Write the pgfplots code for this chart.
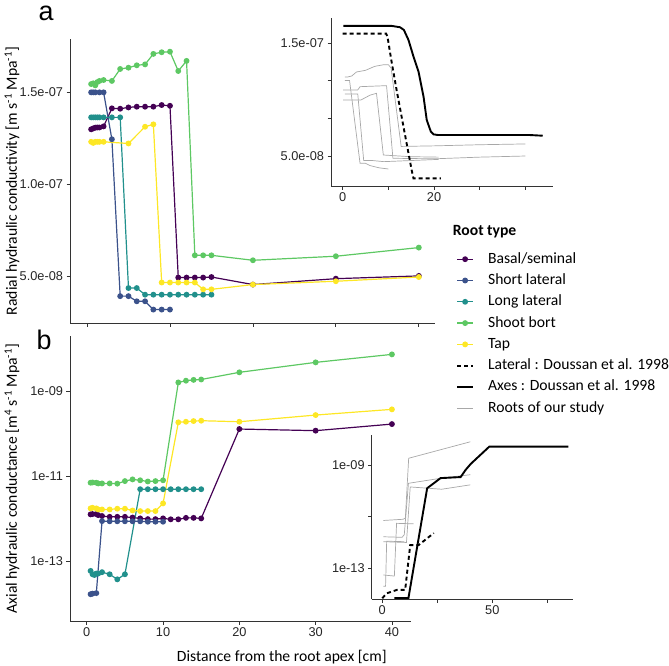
\documentclass[border=0pt]{standalone}
\usepackage{fontspec}
\setmainfont{Carlito}
\newfontfamily\tickfont{Liberation Sans}
\usepackage{pgfplots}
\pgfplotsset{compat=1.18}
\definecolor{cBasal}{HTML}{440154}
\definecolor{cShort}{HTML}{3B528B}
\definecolor{cLong}{HTML}{21908C}
\definecolor{cShoot}{HTML}{5DC863}
\definecolor{cTap}{HTML}{FDE725}
\definecolor{axisgray}{HTML}{333333}
\definecolor{rootgray}{HTML}{A8A8A8}
\newcommand{\labfont}{\fontsize{15.7}{18}\selectfont}
\pgfplotsset{
  base/.style={
    scale only axis, anchor=south west,
    axis lines*=left,
    axis line style={axisgray, line width=0.8bp, -},
    tick align=outside,
    major tick length=3.5bp,
    tick style={axisgray, line width=0.8bp},
    tick label style={font=\tickfont\fontsize{12.8}{15}\selectfont, text=black!85},
    /pgf/number format/assume math mode=true,
    scaled y ticks=false,
  },
  ser/.style={line width=1.2bp, mark=*, mark size=2.3bp, mark options={solid}},
  doussA/.style={black, line width=1.9bp},
  doussL/.style={black, line width=1.9bp, dash pattern=on 4bp off 3bp},
  ours/.style={rootgray, line width=0.7bp},
}
\begin{document}
\begin{tikzpicture}
\useasboundingbox (0,0) rectangle (669bp,-666bp);
% ---------------- panel a ----------------
\begin{axis}[base, at={(70bp,-323bp)}, width=365bp, height=284bp,
  xmin=-2.05, xmax=41.95, ymin=2.46e-8, ymax=17.9e-8,
  xtick={0,10,20,30,40}, xticklabels={},
  ytick={5e-8,1e-7,1.5e-7}, yticklabels={5.0e-08,1.0e-07,1.5e-07},
  ylabel={Radial hydraulic conductivity [m s\textsuperscript{-1} Mpa\textsuperscript{-1}]},
  every axis y label/.style={at={(axis description cs:-0.159,0.5)}, rotate=90, anchor=center, font=\labfont},
  legend cell align=left,
  legend image code/.code={
    \draw[#1, mark repeat=2, mark phase=2] plot coordinates {(0bp,0bp) (8bp,0bp) (16bp,0bp)};
  },
  legend style={at={(axis description cs:1.0575,0.2518)}, anchor=north west, draw=none, fill=none,
    inner sep=0pt, row sep=6.3bp, font=\labfont,
    /tikz/every odd column/.append style={column sep=14bp},
    nodes={inner sep=0pt, text height=11.5bp, text depth=3.5bp, font=\labfont}},
]
\addplot[ser, color=cBasal] coordinates {
(0.5,12.99e-8) (0.75,13.04e-8) (1,13.08e-8) (1.25,13.09e-8) (1.5,13.09e-8) (2,13.15e-8)
(3,14.13e-8) (4,14.11e-8) (5,14.18e-8) (6,14.22e-8) (7,14.22e-8) (8,14.22e-8) (9,14.31e-8) (10,14.27e-8)
(11,4.93e-8) (12,4.93e-8) (13,4.93e-8) (14,4.93e-8) (15,4.96e-8) (20,4.55e-8) (30,4.87e-8) (40,5.02e-8)};
\addlegendentry{\labfont Basal/seminal}
\addplot[ser, color=cShort] coordinates {
(0.5,15.0e-8) (0.75,15.0e-8) (1,15.0e-8) (1.5,15.0e-8) (2,15.0e-8) (3,12.45e-8)
(4,3.92e-8) (5,3.92e-8) (6,3.64e-8) (7,3.64e-8) (8,3.19e-8) (9,3.19e-8) (10,3.19e-8)};
\addlegendentry{\labfont Short lateral}
\addplot[ser, color=cLong] coordinates {
(0.5,13.64e-8) (0.75,13.64e-8) (1,13.64e-8) (1.25,13.64e-8) (1.5,13.64e-8) (2,13.64e-8) (3,13.64e-8) (4,13.64e-8)
(5,4.36e-8) (6,4.36e-8) (7,4.0e-8) (8,4.0e-8) (9,4.0e-8) (10,4.0e-8) (11,4.0e-8) (12,4.0e-8) (13,4.0e-8) (14,4.0e-8) (15,4.0e-8)};
\addlegendentry{\labfont Long lateral}
\addplot[ser, color=cShoot] coordinates {
(0.5,15.45e-8) (0.75,15.49e-8) (1,15.38e-8) (1.25,15.56e-8) (1.5,15.62e-8) (2,15.67e-8) (3,15.62e-8)
(4,16.27e-8) (5,16.34e-8) (6,16.47e-8) (7,16.52e-8) (8,17.09e-8) (9,17.18e-8) (10,17.21e-8)
(11,16.16e-8) (12,16.71e-8) (13,6.14e-8) (14,6.14e-8) (15,6.14e-8) (20,5.87e-8) (30,6.09e-8) (40,6.56e-8)};
\addlegendentry{\labfont Shoot bort}
\addplot[ser, color=cTap] coordinates {
(0.5,12.31e-8) (0.75,12.25e-8) (1,12.31e-8) (1.25,12.31e-8) (1.5,12.31e-8) (2,12.31e-8) (5,12.22e-8)
(7,13.13e-8) (8,13.26e-8) (9,4.66e-8) (10,4.66e-8) (11,4.66e-8) (12,4.66e-8) (13,4.66e-8)
(14,4.29e-8) (15,4.29e-8) (20,4.55e-8) (30,4.73e-8) (40,4.96e-8)};
\addlegendentry{\labfont Tap}
\addlegendimage{doussL}
\addlegendentry{\labfont Lateral : Doussan et al. 1998}
\addlegendimage{doussA}
\addlegendentry{\labfont Axes : Doussan et al. 1998}
\addlegendimage{ours}
\addlegendentry{\labfont Roots of our study}
\end{axis}
% ---------------- panel b ----------------
\begin{axis}[base, at={(70bp,-621bp)}, width=341bp, height=285bp,
  xmin=-2.2, xmax=42.5, ymode=log, ymin=3.98e-15, ymax=2.0e-8,
  xtick={0,10,20,30,40},
  ytick={1e-13,1e-11,1e-9}, yticklabels={1e-13,1e-11,1e-09}, yminorticks=false,
  ylabel={Axial hydraulic conductance [m\textsuperscript{4} s\textsuperscript{-1} Mpa\textsuperscript{-1}]},
  every axis y label/.style={at={(axis description cs:-0.170,0.5)}, rotate=90, anchor=center, font=\labfont},
  xlabel={Distance from the root apex [cm]},
  every axis x label/.style={at={(axis description cs:0.621,-0.125)}, anchor=center, font=\labfont},
]
\addplot[ser, color=cBasal] coordinates {
(0.5,1.28e-12) (0.75,1.30e-12) (1.25,1.30e-12) (1.5,1.23e-12) (2,1.17e-12) (3,1.12e-12) (4,1.12e-12)
(5,1.12e-12) (6,1.08e-12) (7,1.03e-12) (8,0.99e-12) (9,0.99e-12) (10,1.03e-12) (11,0.98e-12)
(12,0.98e-12) (13,1.06e-12) (14,1.06e-12) (15,1.03e-12) (20,1.30e-10) (30,1.19e-10) (40,1.70e-10)};
\addplot[ser, color=cShort] coordinates {
(0.5,1.7e-14) (0.75,1.75e-14) (1.25,1.8e-14) (2,8.9e-13) (3,8.8e-13) (4,8.8e-13) (5,8.8e-13)
(6,8.8e-13) (7,8.8e-13) (8,8.6e-13) (9,8.6e-13) (10,8.6e-13)};
\addplot[ser, color=cLong] coordinates {
(0.5,6.0e-14) (0.75,5.0e-14) (1,4.8e-14) (1.25,5.2e-14) (1.5,5.2e-14) (2,5.6e-14) (3,5.0e-14)
(4,3.8e-14) (5,5.0e-14) (7,5.0e-12) (8,5.0e-12) (9,5.0e-12) (10,5.0e-12) (11,5.0e-12)
(12,5.0e-12) (13,5.0e-12) (14,5.0e-12) (15,5.0e-12)};
\addplot[ser, color=cShoot] coordinates {
(0.5,7.1e-12) (0.75,7.2e-12) (1.25,7.1e-12) (1.5,6.84e-12) (2,6.84e-12) (3,6.84e-12) (4,6.76e-12)
(5,7.76e-12) (6,8.5e-12) (7,8.1e-12) (8,7.6e-12) (9,7.76e-12) (10,8.1e-12) (12,1.62e-9)
(13,1.78e-9) (14,1.86e-9) (15,1.9e-9) (20,2.8e-9) (30,4.8e-9) (40,7.4e-9)};
\addplot[ser, color=cTap] coordinates {
(0.5,1.77e-12) (0.75,1.83e-12) (1.25,1.77e-12) (1.5,1.67e-12) (2,1.67e-12) (3,1.67e-12) (4,1.74e-12)
(5,1.74e-12) (6,1.58e-12) (7,1.53e-12) (8,1.53e-12) (9,1.53e-12) (10,2.32e-12) (12,1.87e-10)
(13,1.93e-10) (14,2.0e-10) (15,2.04e-10) (20,1.93e-10) (30,2.77e-10) (40,3.77e-10)};
\end{axis}
% ---------------- inset a ----------------
\begin{axis}[base, at={(331bp,-186bp)}, width=222bp, height=168bp,
  xmin=-2.56, xmax=46.05, ymin=2.34e-8, ymax=17.24e-8,
  xtick={0,10,20,30,40}, xticklabels={0,,20,,},
  ytick={5e-8,8.333e-8,11.667e-8,15e-8}, yticklabels={5.0e-08,,,1.5e-07},
]
\addplot[ours] coordinates {(0.5,12.0e-8) (1,12.0e-8) (2,12.1e-8) (3,12.45e-8) (5,12.6e-8) (7,12.95e-8) (9,13.1e-8) (10,13.1e-8) (10.6,12.8e-8) (12.8,5.85e-8) (20,5.9e-8) (30,6.0e-8) (40,6.07e-8)};
\addplot[ours] coordinates {(0.5,11.7e-8) (1.5,11.7e-8) (3.8,4.35e-8) (5,4.35e-8) (6,4.15e-8) (8,3.95e-8) (10,3.85e-8)};
\addplot[ours] coordinates {(0.1,10.86e-8) (3.3,10.86e-8) (3.8,11.15e-8) (9.6,11.24e-8) (11,4.8e-8) (20,4.75e-8) (30,4.9e-8) (40,5.0e-8)};
\addplot[ours] coordinates {(0.5,10.5e-8) (3.3,10.5e-8) (4.6,4.6e-8) (6.5,4.6e-8) (9,4.5e-8) (21,4.7e-8)};
\addplot[ours] coordinates {(0.1,9.97e-8) (4,9.97e-8) (6,10.4e-8) (7.4,10.56e-8) (8.9,5.09e-8) (14.7,4.94e-8) (21,4.9e-8)};
\addplot[doussL] coordinates {(0,15.86e-8) (9.5,15.86e-8) (9.8,15.6e-8) (10.7,13.37e-8) (11.8,10.86e-8) (12.9,8.49e-8) (14.0,6.12e-8) (15.1,3.76e-8) (15.5,3.02e-8) (21.5,3.02e-8)};
\addplot[doussA] coordinates {(0.15,16.54e-8) (10.7,16.54e-8) (12.55,16.42e-8) (13.4,16.18e-8) (14.4,15.3e-8) (15.5,13.82e-8) (16.6,12.49e-8) (17.7,10.27e-8) (18.4,8.2e-8) (19.3,7.16e-8) (19.9,6.92e-8) (20.9,6.86e-8) (41,6.86e-8) (43.8,6.8e-8)};
\end{axis}
% ---------------- inset b ----------------
\begin{axis}[base, at={(371.7bp,-599bp)}, width=201.6bp, height=164bp,
  xmin=-4.8, xmax=86.8, ymode=log, ymin=6.46e-15, ymax=1.445e-8,
  xtick={0,25,50,75}, xticklabels={0,,50,},
  ytick={1e-13,1e-11,1e-9}, yticklabels={1e-13,,1e-09}, yminorticks=false,
]
\addplot[ours] coordinates {(0.5,7.1e-12) (9.5,7.9e-12) (10.5,8.9e-12) (12,1.82e-9) (40,7.9e-9)};
\addplot[ours] coordinates {(0.5,1.66e-12) (9,1.58e-12) (10,2.0e-12) (11.9,1.95e-10) (27,3.1e-10) (40,4.2e-10)};
\addplot[ours] coordinates {(0.5,1.07e-12) (11,1.0e-12) (12.7,1.41e-10) (27,1.15e-10) (40,1.7e-10)};
\addplot[ours] coordinates {(0.5,5.5e-14) (5.5,5.0e-14) (6.5,5.5e-12) (14.2,5.25e-12)};
\addplot[ours] coordinates {(0.5,2.0e-14) (1.5,2.0e-14) (2,1.12e-12) (10,1.07e-12)};
\addplot[doussL] coordinates {(0,6.9e-15) (2,1.07e-14) (6.6,1.45e-14) (10.4,1.45e-14) (12.7,7.9e-13) (16.5,7.9e-13) (23.4,2.3e-12)};
\addplot[doussA] coordinates {(5.5,7.1e-15) (11.9,7.1e-15) (20.4,1.26e-10) (26.5,3.1e-10) (35.6,3.4e-10) (37.9,6.5e-10) (40.2,1.1e-9) (48.6,5.1e-9) (84.6,5.1e-9)};
\end{axis}
% ---------------- titles ----------------
\node[inner sep=0pt, font=\tickfont\fontsize{27}{29}\selectfont] at (46bp,-13bp) {a};
\node[inner sep=0pt, font=\tickfont\fontsize{27}{29}\selectfont] at (44bp,-340bp) {b};
\node[anchor=west, inner sep=0pt, font=\bfseries\labfont] at (452.7bp,-231.7bp) {Root type};
\end{tikzpicture}
\end{document}
